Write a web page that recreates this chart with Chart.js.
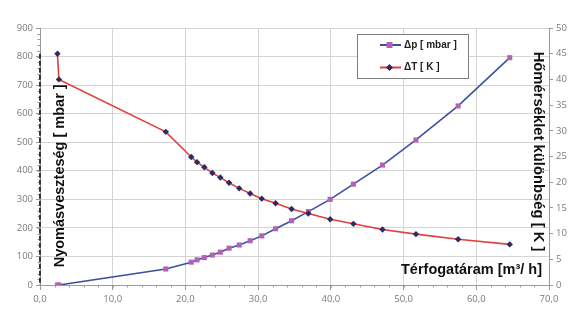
<!DOCTYPE html>
<html>
<head>
<meta charset="utf-8">
<script src="https://cdn.jsdelivr.net/npm/chart.js@4/dist/chart.umd.min.js"></script>
<style>
html,body{margin:0;padding:0;background:#fff;}
#wrap{position:relative;width:574px;height:322px;}
</style>
</head>
<body>
<div id="wrap"><canvas id="c" width="574" height="322"></canvas></div>
<script>
// Flow rate [m3/h]
const flow = [2.4, 2.6, 17.3, 20.8, 21.6, 22.6, 23.7, 24.8, 26.0, 27.4, 28.9, 30.5, 32.4, 34.6, 36.9, 39.9, 43.1, 47.1, 51.7, 57.5, 64.6];
// Pressure drop [mbar]
const dp = [0, 0, 56, 80, 88, 96, 105, 115, 129, 140, 155, 172, 197, 225, 257, 300, 353, 420, 508, 627, 796];
// Temperature difference [K]
const dT = [45, 40, 29.8, 24.9, 23.9, 22.9, 21.8, 20.9, 19.9, 18.8, 17.8, 16.8, 15.9, 14.8, 13.9, 12.8, 11.9, 10.8, 9.9, 8.9, 7.9];

const seriesNames = ['Δp [ mbar ]', 'ΔT [ K ]'];
const leftTitle = 'Nyomásveszteség [ mbar ]';
const rightTitle = 'Hőmérséklet különbség [ K ]';
const xTitle = 'Térfogatáram [m³/ h]';

const tickFont = {family: 'Open Sans', size: 9.5};
const tickColor = '#7a7a7a';
const gridColor = '#d4d4d4';
const axisColor = '#9a9a9a';

const decor = {
  id: 'decor',
  afterDraw(chart) {
    const ctx = chart.ctx;
    const xs = chart.scales.x, yl = chart.scales.y, yr = chart.scales.y2;
    const ca = chart.chartArea;
    ctx.save();
    // minor ticks
    ctx.strokeStyle = axisColor;
    ctx.lineWidth = 1;
    ctx.beginPath();
    for (let v = 0; v <= 70; v += 2) {
      const px = Math.round(xs.getPixelForValue(v)) + 0.5;
      ctx.moveTo(px, ca.bottom); ctx.lineTo(px, ca.bottom + 2.5);
    }
    for (let v = 0; v <= 900; v += 20) {
      const py = Math.round(yl.getPixelForValue(v)) + 0.5;
      ctx.moveTo(ca.left - 2.5, py); ctx.lineTo(ca.left, py);
    }
    ctx.stroke();
    // dark dashed left axis
    ctx.strokeStyle = '#333';
    ctx.lineWidth = 2;
    ctx.setLineDash([5, 2]);
    ctx.beginPath();
    ctx.moveTo(ca.left, yl.getPixelForValue(810));
    ctx.lineTo(ca.left, yl.getPixelForValue(0));
    ctx.stroke();
    ctx.setLineDash([]);

    // axis titles
    ctx.fillStyle = '#111';
    ctx.font = 'bold 14.5px "Liberation Sans", Arial, sans-serif';
    ctx.textAlign = 'left';
    ctx.textBaseline = 'middle';
    ctx.save();
    ctx.translate(ca.left + 20, yl.getPixelForValue(62));
    ctx.rotate(-Math.PI / 2);
    ctx.fillText(leftTitle, 0, 0);
    ctx.restore();

    ctx.font = 'bold 14.8px "Liberation Sans", Arial, sans-serif';
    ctx.save();
    ctx.translate(ca.right - 11, yr.getPixelForValue(45.4));
    ctx.rotate(Math.PI / 2);
    ctx.fillText(rightTitle, 0, 0);
    ctx.restore();

    ctx.font = 'bold 14.5px "Liberation Sans", Arial, sans-serif';
    ctx.textAlign = 'right';
    ctx.fillText(xTitle, ca.right - 7, yl.getPixelForValue(52));

    // legend
    const lx = 357, ly = 34, lw = 111, lh = 44;
    ctx.fillStyle = '#fff';
    ctx.fillRect(lx, ly, lw, lh);
    ctx.strokeStyle = '#7f7f7f';
    ctx.lineWidth = 1;
    ctx.strokeRect(lx + 0.5, ly + 0.5, lw, lh);
    const items = [
      {t: seriesNames[0], line: '#3d4f9f', mk: '#b262b6', sq: true, y: ly + 11},
      {t: seriesNames[1], line: '#e0403c', mk: '#2b2b66', sq: false, y: ly + 33.5}
    ];
    ctx.font = 'bold 10px "Liberation Sans", Arial, sans-serif';
    ctx.textAlign = 'left';
    items.forEach(it => {
      ctx.strokeStyle = it.line; ctx.lineWidth = 2;
      ctx.beginPath(); ctx.moveTo(lx + 23, it.y); ctx.lineTo(lx + 44, it.y); ctx.stroke();
      ctx.fillStyle = it.mk;
      if (it.sq) { ctx.fillRect(lx + 29.5, it.y - 3, 6, 6); }
      else {
        ctx.beginPath(); ctx.moveTo(lx + 32.5, it.y - 3.5); ctx.lineTo(lx + 36, it.y);
        ctx.lineTo(lx + 32.5, it.y + 3.5); ctx.lineTo(lx + 29, it.y); ctx.closePath(); ctx.fill();
      }
      ctx.fillStyle = '#222';
      ctx.fillText(it.t, lx + 47, it.y);
    });
    ctx.restore();
  }
};

new Chart(document.getElementById('c'), {
  type: 'scatter',
  data: {
    datasets: [
      {
        label: seriesNames[0],
        data: flow.map((x, i) => ({x, y: dp[i]})),
        yAxisID: 'y',
        showLine: true,
        borderColor: '#3d4f9f',
        borderWidth: 1.6,
        backgroundColor: '#b262b6',
        pointStyle: 'rect',
        pointRadius: 3.6,
        pointBorderWidth: 0,
        tension: 0,
        order: 2
      },
      {
        label: seriesNames[1],
        data: flow.map((x, i) => ({x, y: dT[i]})),
        yAxisID: 'y2',
        showLine: true,
        borderColor: '#e0403c',
        borderWidth: 1.6,
        backgroundColor: '#2b2b66',
        pointStyle: 'rectRot',
        pointRadius: 3.2,
        pointBorderWidth: 0,
        tension: 0,
        order: 1
      }
    ]
  },
  options: {
    responsive: false,
    animation: false,
    layout: {padding: {top: 28, left: 0, right: 0, bottom: 0}},
    plugins: {legend: {display: false}, tooltip: {enabled: false}},
    scales: {
      x: {
        type: 'linear', min: 0, max: 70,
        ticks: {stepSize: 10, color: tickColor, font: tickFont, padding: 4,
          callback: v => v.toFixed(1).replace('.', ',')},
        grid: {color: gridColor, tickColor: axisColor, tickLength: 5},
        border: {color: axisColor},
        afterFit(s) { s.height = 37; }
      },
      y: {
        position: 'left', min: 0, max: 900,
        ticks: {stepSize: 100, color: tickColor, font: tickFont, padding: 3},
        grid: {color: gridColor, tickColor: axisColor, tickLength: 4},
        border: {color: axisColor},
        afterFit(s) { s.width = 40; }
      },
      y2: {
        position: 'right', min: 0, max: 50,
        ticks: {stepSize: 5, color: tickColor, font: tickFont, padding: 3},
        grid: {display: true, drawOnChartArea: false, tickColor: axisColor, tickLength: 4},
        border: {color: axisColor},
        afterFit(s) { s.width = 25; }
      }
    }
  },
  plugins: [decor]
});
</script>
</body>
</html>
